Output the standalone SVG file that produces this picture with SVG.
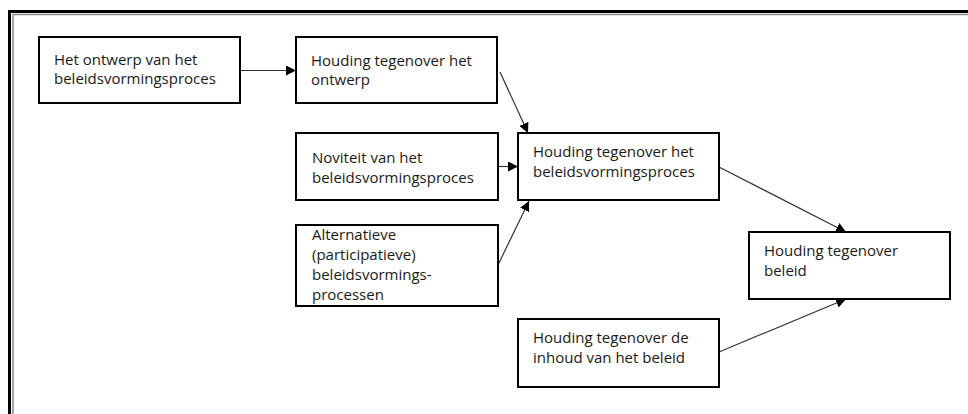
<svg xmlns="http://www.w3.org/2000/svg" width="968" height="414" viewBox="0 0 968 414">
<defs>
<style>
.box{fill:#fff;stroke:#000;stroke-width:2}
.t{font-family:"Open Sans","Noto Sans","Liberation Sans",sans-serif;font-size:15px;fill:#1a1a1a}
.c{fill:none;stroke:#333;stroke-width:1.2}
</style>
<marker id="ah" viewBox="0 0 10 10" refX="10" refY="5" markerWidth="10" markerHeight="10" markerUnits="userSpaceOnUse" orient="auto">
<path d="M0,0 L10,5 L0,10 Z" fill="#000"/>
</marker>
</defs>
<rect width="968" height="414" fill="#fff"/>
<g id="frame">
<path d="M9.5,414 V11.5 H968" fill="none" stroke="#000" stroke-width="3"/>
<path d="M13,414 V14.5 H968" fill="none" stroke="#888" stroke-width="1.5"/>
</g>
<g id="connectors">
<line class="c" x1="240" y1="70.5" x2="296" y2="70.5" marker-end="url(#ah)"/>
<line class="c" x1="500" y1="72" x2="528" y2="133" marker-end="url(#ah)"/>
<line class="c" x1="498" y1="166.5" x2="518" y2="166.5" marker-end="url(#ah)"/>
<line class="c" x1="498" y1="265" x2="529" y2="201" marker-end="url(#ah)"/>
<line class="c" x1="719" y1="167" x2="846" y2="232" marker-end="url(#ah)"/>
<line class="c" x1="719" y1="352" x2="846" y2="299" marker-end="url(#ah)"/>
</g>
<g id="n1">
<rect class="box" x="39" y="37" width="201" height="66"/>
<text class="t" x="54" y="65">Het ontwerp van het</text>
<text class="t" x="54" y="84">beleidsvormingsproces</text>
</g>
<g id="n2">
<rect class="box" x="296" y="37" width="201" height="66"/>
<text class="t" x="311" y="66">Houding tegenover het</text>
<text class="t" x="311" y="85">ontwerp</text>
</g>
<g id="n3">
<rect class="box" x="296" y="133" width="202" height="67"/>
<text class="t" x="312" y="163">Noviteit van het</text>
<text class="t" x="312" y="183">beleidsvormingsproces</text>
</g>
<g id="n4">
<rect class="box" x="518" y="133" width="201" height="67"/>
<text class="t" x="533" y="157">Houding tegenover het</text>
<text class="t" x="533" y="177">beleidsvormingsproces</text>
</g>
<g id="n5">
<rect class="box" x="296" y="225" width="202" height="81"/>
<text class="t" x="312" y="240">Alternatieve</text>
<text class="t" x="312" y="260">(participatieve)</text>
<text class="t" x="312" y="280">beleidsvormings-</text>
<text class="t" x="312" y="300">processen</text>
</g>
<g id="n6">
<rect class="box" x="749" y="232" width="201" height="67"/>
<text class="t" x="764" y="256">Houding tegenover</text>
<text class="t" x="764" y="276">beleid</text>
</g>
<g id="n7">
<rect class="box" x="518" y="319" width="201" height="68"/>
<text class="t" x="533" y="343">Houding tegenover de</text>
<text class="t" x="533" y="363">inhoud van het beleid</text>
</g>
</svg>
